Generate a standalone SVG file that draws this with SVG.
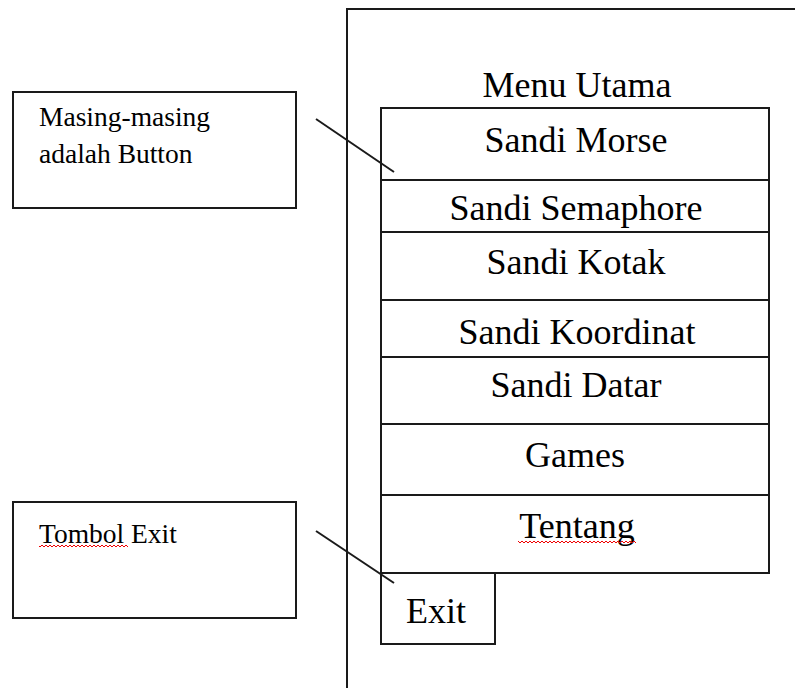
<svg xmlns="http://www.w3.org/2000/svg" width="795" height="688" viewBox="0 0 795 688">
<style>
.box{fill:#fff;stroke:#1a1a1a;stroke-width:2}
.ln{fill:none;stroke:#1a1a1a;stroke-width:2}
.m{font-family:"Liberation Serif","Times New Roman",serif;font-size:36px;fill:#000;text-anchor:middle}
.n{font-family:"Liberation Serif","Times New Roman",serif;font-size:27.5px;fill:#000}
</style>
<defs>
<pattern id="sq" patternUnits="userSpaceOnUse" x="0" y="0" width="4" height="4">
<path d="M0 3 L2 1 L4 3" fill="none" stroke="#e00" stroke-width="1"/>
</pattern>
</defs>
<rect width="795" height="688" fill="#fff"/>
<g id="screen">
<path class="ln" d="M795 9 H347 V688"/>
<text class="m" x="577" y="97">Menu Utama</text>
</g>
<g id="btn-morse"><rect class="box" x="381" y="108" width="388" height="72"/><text class="m" x="576" y="152">Sandi Morse</text></g>
<g id="btn-semaphore"><rect class="box" x="381" y="180" width="388" height="52"/><text class="m" x="576" y="220">Sandi Semaphore</text></g>
<g id="btn-kotak"><rect class="box" x="381" y="232" width="388" height="68"/><text class="m" x="576" y="274">Sandi Kotak</text></g>
<g id="btn-koordinat"><rect class="box" x="381" y="300" width="388" height="57"/><text class="m" x="577" y="344">Sandi Koordinat</text></g>
<g id="btn-datar"><rect class="box" x="381" y="357" width="388" height="67"/><text class="m" x="576" y="397">Sandi Datar</text></g>
<g id="btn-games"><rect class="box" x="381" y="424" width="388" height="71"/><text class="m" x="575" y="467">Games</text></g>
<g id="btn-tentang"><rect class="box" x="381" y="495" width="388" height="78"/><text class="m" x="577" y="538">Tentang</text><rect x="518" y="541" width="118" height="4" fill="url(#sq)"/></g>
<g id="btn-exit"><rect class="box" x="381" y="573" width="114" height="71"/><text class="m" x="436" y="623">Exit</text></g>
<g id="note-button"><rect class="box" x="13" y="92" width="283" height="116"/><text class="n" x="39" y="126">Masing-masing</text><text class="n" x="39" y="163">adalah Button</text></g>
<g id="note-exit"><rect class="box" x="13" y="502" width="283" height="116"/><text class="n" x="39" y="543">Tombol Exit</text><rect x="39" y="545" width="89" height="4" fill="url(#sq)"/></g>
<g id="connectors">
<line class="ln" x1="316" y1="119" x2="394" y2="172"/>
<line class="ln" x1="316" y1="531" x2="394" y2="583"/>
</g>
</svg>
